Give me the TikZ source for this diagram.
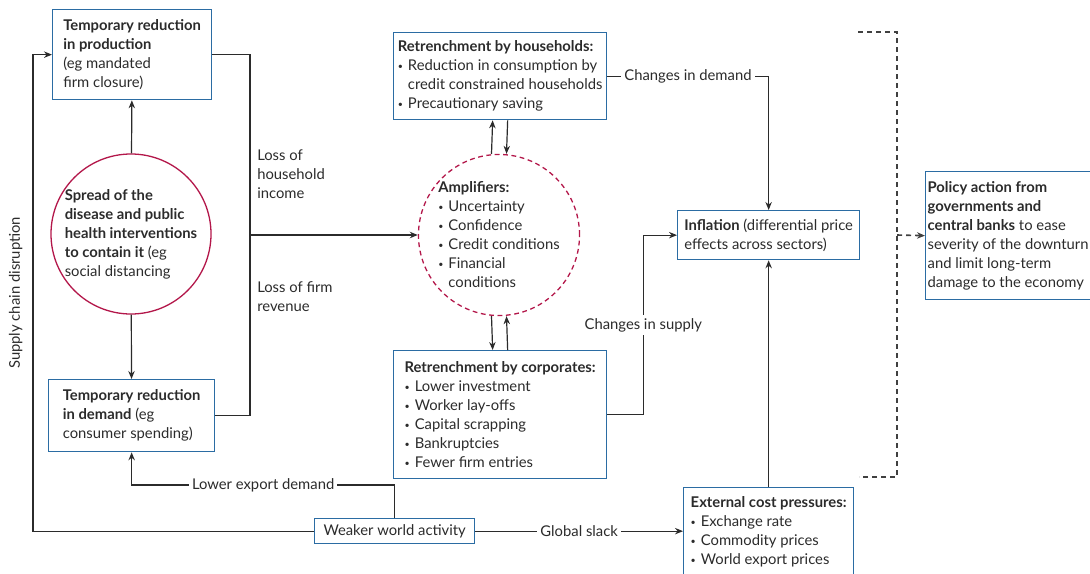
\documentclass[tikz,border=0pt]{standalone}
\usepackage{fontspec}
\setmainfont{Lato}
\usetikzlibrary{arrows.meta, positioning, calc, shapes.geometric}
\definecolor{boxblue}{HTML}{2B6CA3}
\definecolor{discol}{HTML}{B3174A}
\definecolor{ink}{HTML}{2B2B2B}
\newcommand{\bul}{\raisebox{0.2ex}{\scalebox{0.6}{\textbullet}}\hspace{2.5pt}}

\begin{document}
\begin{tikzpicture}[
    x=0.5pt, y=-0.5pt,
    every node/.style={font=\fontsize{7.4}{9.5}\selectfont, text=ink},
    box/.style={rectangle, draw=boxblue, line width=0.65pt, anchor=north west, align=left, inner sep=2pt},
    blob/.style={circle, draw=discol, line width=0.65pt, align=left, inner sep=0pt},
    arrow/.style={-{Stealth[length=4pt,width=3.2pt]}, line width=0.6pt, draw=ink},
    link/.style={line width=0.6pt, draw=ink},
    lbl/.style={fill=white, inner sep=1.5pt}
]
\useasboundingbox (0,0) rectangle (1090,573);
\clip (0,0) rectangle (1090,573);

% --- Shock and first-round effects ---
\node[blob, minimum size=80pt] (dis) at (131,234) {{\bfseries Spread of the}\\{\bfseries disease and public}\\{\bfseries health interventions}\\{\bfseries to contain it} (eg\\social distancing};
\node[box, minimum width=79.5pt, minimum height=45pt] (prod) at (52,9) {{\bfseries Temporary reduction}\\{\bfseries in production}\\(eg mandated\\firm closure)};
\node[box, minimum width=83pt, minimum height=36pt] (dem) at (48,379) {{\bfseries Temporary reduction}\\{\bfseries in demand} (eg\\consumer spending)};

% --- Amplification ---
\node[blob, draw=discol, dash pattern=on 2.4pt off 1.8pt, minimum size=76pt] (amp) at (499,235) {{\bfseries Amplifiers:}\\\bul Uncertainty\\\bul Confidence\\\bul Credit conditions\\\bul Financial\\\phantom{\bul}conditions};
\node[box, minimum width=106.5pt, minimum height=43.5pt] (hh) at (393,32) {{\bfseries Retrenchment by households:}\\\bul Reduction in consumption by\\\phantom{\bul}credit constrained households\\\bul Precautionary saving};
\node[box, minimum width=106.5pt, minimum height=64pt] (corp) at (393,350) {{\bfseries Retrenchment by corporates:}\\\bul Lower investment\\\bul Worker lay-offs\\\bul Capital scrapping\\\bul Bankruptcies\\\bul Fewer firm entries};

% --- Prices, world and policy ---
\node[box, minimum width=91pt, minimum height=24.5pt] (infl) at (677,210) {{\bfseries Inflation} (differential price\\effects across sectors)};
\node[box, minimum width=85pt, minimum height=44.5pt] (ext) at (683,487) {{\bfseries External cost pressures:}\\\bul Exchange rate\\\bul Commodity prices\\\bul World export prices};
\node[box, minimum width=80pt, minimum height=12.5pt, align=center] (wwa) at (314,518) {Weaker world activity};
\node[box, minimum width=82pt, minimum height=64pt, inner xsep=1pt] (pol) at (925,171) {{\bfseries Policy action from}\\{\bfseries governments and}\\{\bfseries central banks} to ease\\severity of the downturn\\and limit long-term\\damage to the economy};

\coordinate (bus) at (250,235);
\coordinate (brk) at (897,235);

% --- Connections ---
\draw[arrow] (dis) -- (prod);
\draw[arrow] (dis) -- (dem);
\draw[link] (prod.east) -| node[pos=0.83, right, align=left] {Loss of\\household\\income} (bus);
\draw[link] (dem.east) -| node[pos=0.83, right, align=left] {Loss of firm\\revenue} (bus);
\draw[arrow] (bus) -- (amp.west);

\draw[arrow] ($(amp.north)+(-7.5,0)$) -- ($(hh.south)+(-7.5,0)$);
\draw[arrow] ($(hh.south)+(7.5,0)$) -- ($(amp.north)+(7.5,0)$);
\draw[arrow] ($(amp.south)+(-7.5,0)$) -- ($(corp.north)+(-7.5,0)$);
\draw[arrow] ($(corp.north)+(7.5,0)$) -- ($(amp.south)+(7.5,0)$);

\draw[arrow] (hh.east) -| node[pos=0.25, lbl] {Changes in demand} (infl.north);
\draw[arrow] (corp.east) -- ++(36,0) |- node[pos=0.25, lbl] {Changes in supply} (infl.west);
\draw[arrow] (ext.north) -- (infl.south);

\draw[arrow] (wwa.east) -- node[lbl] {Global slack} (wwa.east -| ext.west);
\draw[arrow] (wwa.north) -- ++(0,-33) -| node[pos=0.25, lbl] {Lower export demand} (dem.south);
\draw[arrow] (wwa.west) -- ++(-281,0) |- node[pos=0.25, rotate=90, anchor=south, inner sep=5pt] {Supply chain disruption} (prod.west);

% --- Policy bracket ---
\draw[line width=0.8pt, draw=black!75, dash pattern=on 2.5pt off 2pt] (858,32) -| (brk) |- (859,477);
\draw[-{Stealth[length=4pt,width=3.2pt]}, line width=0.8pt, draw=black!75, dash pattern=on 2.5pt off 2pt] (brk) -- (pol.west);
\end{tikzpicture}
\end{document}
